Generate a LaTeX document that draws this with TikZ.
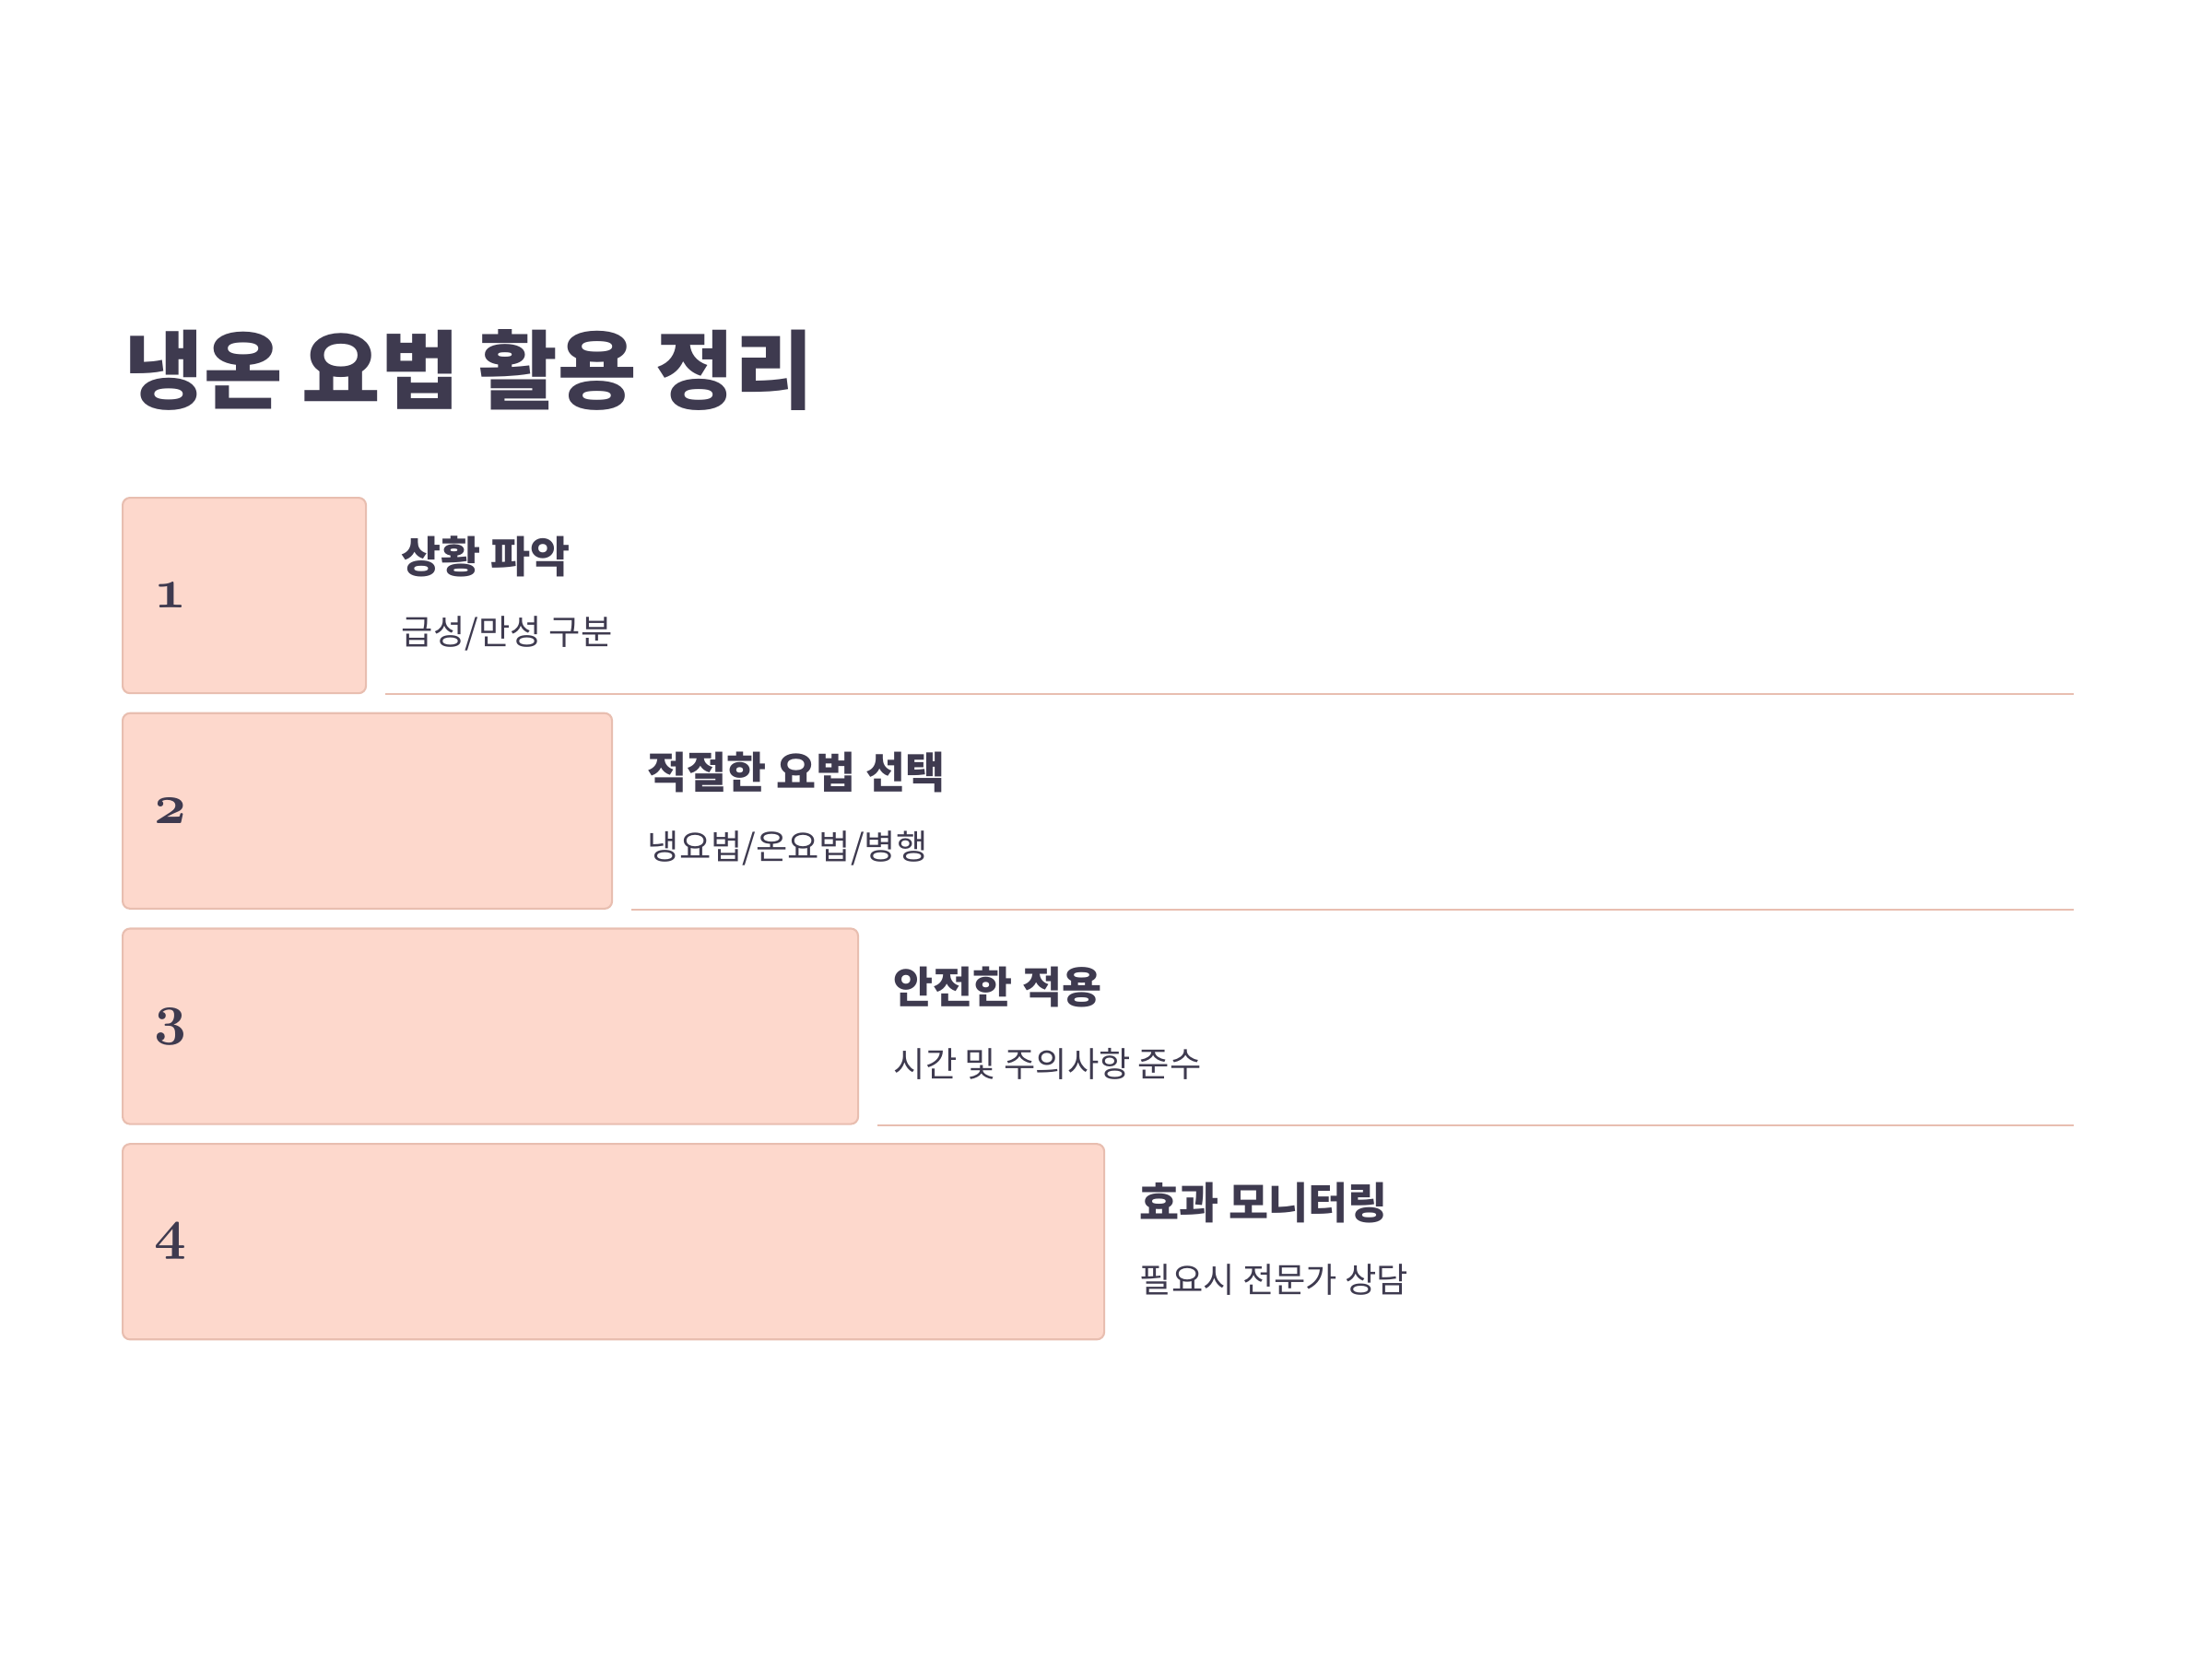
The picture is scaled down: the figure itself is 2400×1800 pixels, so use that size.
\documentclass[tikz,border=0pt]{standalone}
\usepackage{fontspec}
\usepackage{tikz}
\usetikzlibrary{positioning}

\newfontfamily\kr{Noto Sans CJK KR}
\newcommand{\oldnum}{\fontencoding{OML}\fontfamily{cmm}\fontseries{b}\fontshape{it}\selectfont}

\definecolor{ink}{RGB}{62,58,79}
\definecolor{peach}{RGB}{253,216,204}
\definecolor{peachline}{RGB}{232,190,176}

\tikzset{
  numbox/.style={draw=peachline, line width=0.6pt, fill=peach, rounded corners=0.08cm,
    anchor=north west, minimum height=2.12cm, inner sep=0},
  numtext/.style={anchor=west, inner sep=0, text=ink, font=\oldnum\fontsize{16.5}{16.5}\selectfont},
  headtext/.style={anchor=west, inner sep=0, text=ink, font=\kr\bfseries\fontsize{13.3}{13.3}\selectfont},
  subtext/.style={anchor=west, inner sep=0, text=ink, font=\kr\fontsize{10.6}{10.6}\selectfont},
  sepline/.style={draw=peachline, line width=0.6pt}
}

\begin{document}
\begin{tikzpicture}[x=0.01cm, y=-0.01cm, >=latex]
\useasboundingbox (0,0) rectangle (2400,1800);

% heading of the page
\node[anchor=west, inner sep=0, text=ink, font=\kr\bfseries\fontsize{26.4}{26.4}\selectfont]
  (title) at (135,401) {냉온 요법 활용 정리};

\coordinate (rim) at (2250,0);

% one step box per row, each wider than the last
\foreach \i/\w/\head/\sub in {1/264/{상황 파악}/{급성/만성 구분},
                             2/531/{적절한 요법 선택}/{냉요법/온요법/병행},
                             3/798/{안전한 적용}/{시간 및 주의사항 준수},
                             4/1065/{효과 모니터링}/{필요시 전문가 상담}} {
    \pgfmathsetmacro\top{539+(\i-1)*233.7}
    \node[numbox, minimum width=\w*0.01cm] (box\i) at (132,\top) {};
    \node[numtext] (num\i) at ([xshift=0.35cm]box\i.west) {\i};
    \node[headtext] (head\i) at ([xshift=0.37cm, yshift=-0.65cm]box\i.north east) {\head};
    \node[subtext] (sub\i) at ([xshift=0.37cm, yshift=-1.48cm]box\i.north east) {\sub};
    \ifnum\i<4
      \coordinate (end\i) at (box\i.south east -| rim);
      \draw[sepline] ([xshift=0.2cm]box\i.south east) -- (end\i);
    \fi
};

\end{tikzpicture}
\end{document}
